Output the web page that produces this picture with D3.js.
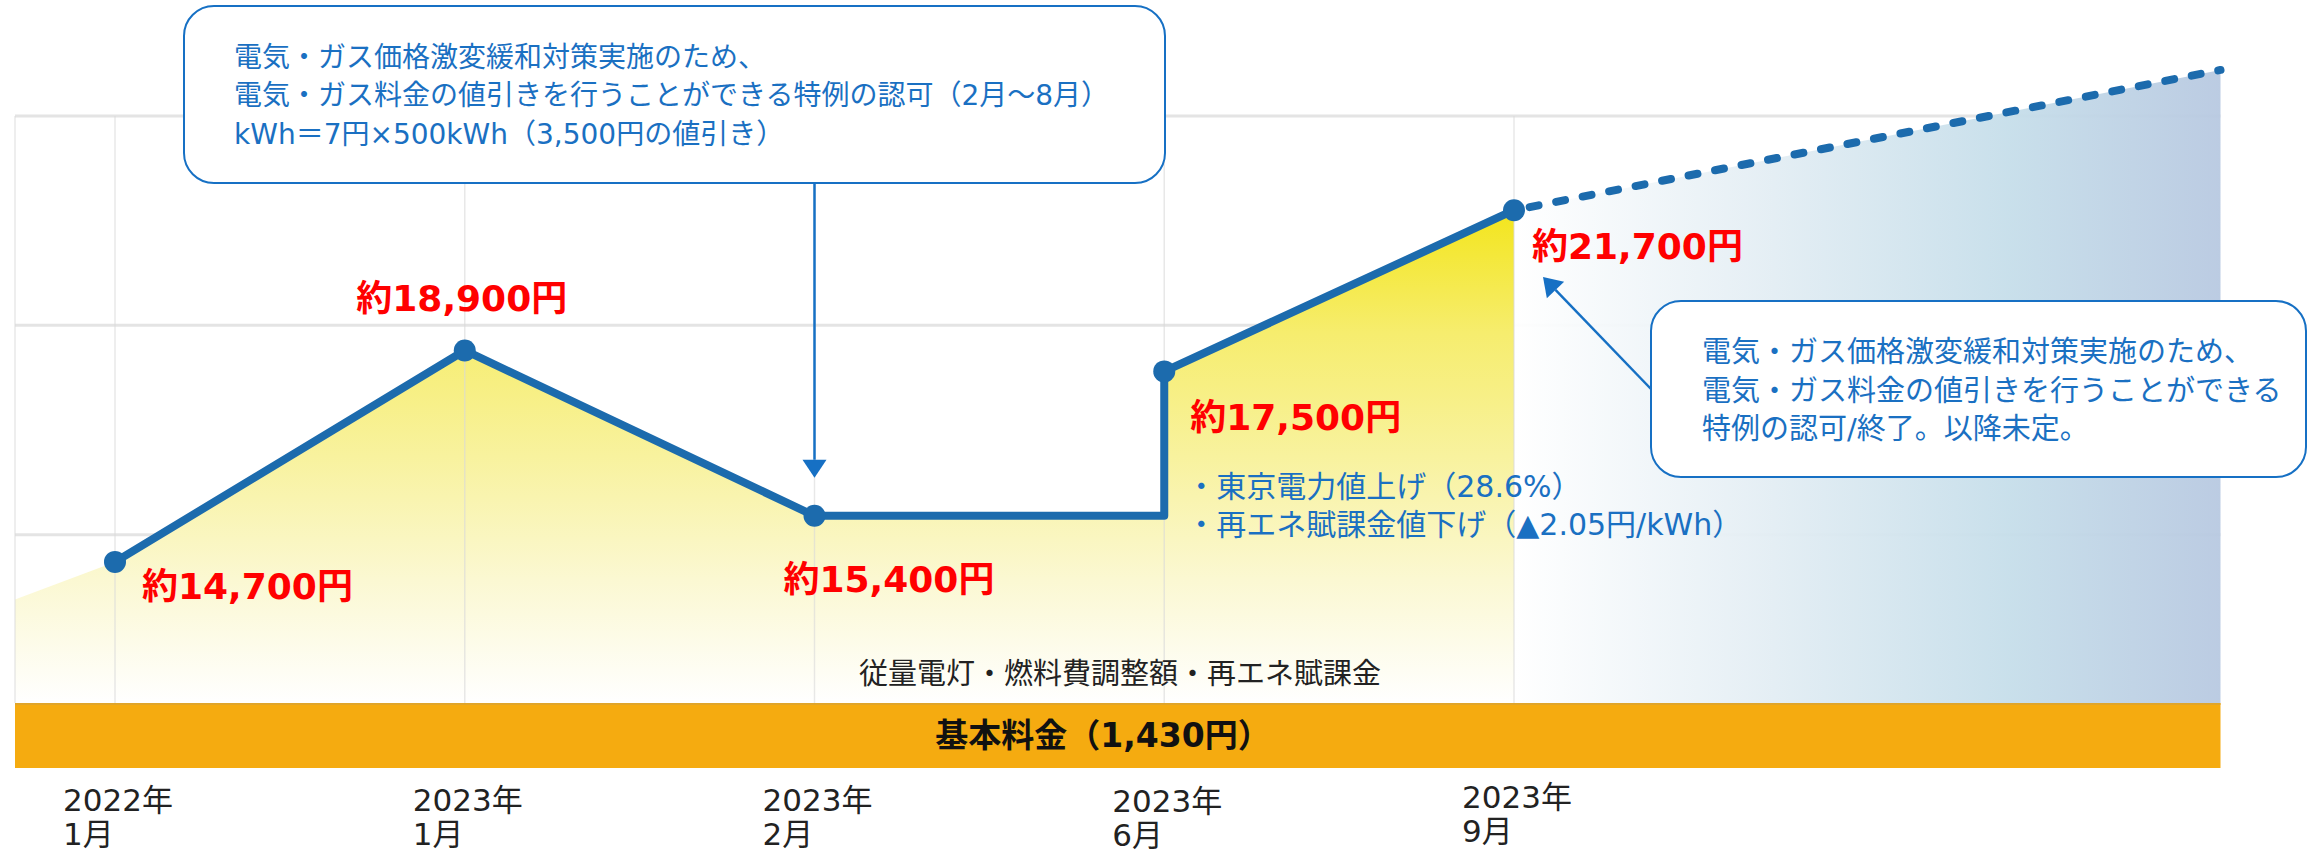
<!DOCTYPE html>
<html>
<head>
<meta charset="utf-8">
<script src="https://cdn.jsdelivr.net/npm/d3@7"></script>
<style>
    body { margin: 0; background: #fff; }
    svg { display: block; }
</style>
</head>
<body>
<div id="chart"></div>
<script>
// 期間
let yearLabels = ["2022年", "2023年", "2023年", "2023年", "2023年"];
let monthLabels = ["1月", "1月", "2月", "6月", "9月"];
// 月額（約）
let bills = [14700, 18900, 15400, 17500, 21700];
// 図上の高さ（目盛り単位、模式図なので金額とは比例しない）
let levels = [0.87, 1.88, 1.09, 1.78, 2.55];
let stepAt = 3;            // 6月は2月の水準のまま → 一気に上がる
let startLevel = 0.69;     // 左端の塗り始め
let forecastLevel = 3.22;  // 以降（点線）
let forecastIndex = 6.02;
let gridLevels = [1, 2, 3];

let baseFeeText = "基本料金（1,430円）";
let usageText = "従量電灯・燃料費調整額・再エネ賦課金";
let noteLines = ["・東京電力値上げ（28.6%）", "・再エネ賦課金値下げ（▲2.05円/kWh）"];
let callout1 = ["電気・ガス価格激変緩和対策実施のため、",
    "電気・ガス料金の値引きを行うことができる特例の認可（2月～8月）",
    "kWh＝7円×500kWh（3,500円の値引き）"];
let callout2 = ["電気・ガス価格激変緩和対策実施のため、",
    "電気・ガス料金の値引きを行うことができる",
    "特例の認可/終了。以降未定。"];

let width = 2321;
let height = 856;
let plotLeft = 15;
let bandTop = 703;
let bandHeight = 65;
let lineColor = "#1c6bad";
let noteColor = "#1a70c2";
let font = "'DejaVu Sans', 'Noto Sans CJK JP', sans-serif";

let x = d3.scaleLinear().domain([0, 6]).range([115, 2213.5]);
let y = d3.scaleLinear().domain([0, 3]).range([744, 116]);
let plotRight = x(forecastIndex);

let svg = d3.select("#chart")
    .append("svg")
    .attr("width", width)
    .attr("height", height)
    .style("font-family", font);

let defs = svg.append("defs");

let yellow = defs.append("linearGradient")
    .attr("id", "yellowFill")
    .attr("gradientUnits", "userSpaceOnUse")
    .attr("x1", 0).attr("x2", 0)
    .attr("y1", y(levels[4])).attr("y2", bandTop);
[[0, "#f3e51c"], [0.25, "#f6ed6e"], [0.5, "#f8f29e"], [0.75, "#fbf8d2"], [1, "#ffffff"]]
    .forEach(function(s) {
        yellow.append("stop").attr("offset", s[0]).attr("stop-color", s[1]);
    });

let blue = defs.append("linearGradient")
    .attr("id", "blueFill")
    .attr("gradientUnits", "userSpaceOnUse")
    .attr("x1", x(4)).attr("x2", plotRight)
    .attr("y1", 0).attr("y2", 0);
[[0, "#ffffff"], [0.35, "#e4eef4"], [0.7, "#c6deea"], [1, "#b8c9e1"]]
    .forEach(function(s) {
        blue.append("stop").attr("offset", s[0]).attr("stop-color", s[1]);
    });

// 横グリッド
svg.selectAll(".hgrid")
    .data(gridLevels)
    .enter().append("line")
    .attr("class", "hgrid")
    .attr("x1", plotLeft).attr("x2", plotRight)
    .attr("y1", d => y(d)).attr("y2", d => y(d))
    .attr("stroke", "#e4e4e4")
    .attr("stroke-width", 3);

// 実績の点列（6月は段差）
let pts = [];
levels.forEach(function(v, i) {
    if (i === stepAt) pts.push([i, levels[i - 1]]);
    pts.push([i, v]);
});

let area = d3.area()
    .x(d => x(d[0]))
    .y0(bandTop)
    .y1(d => y(d[1]));

svg.append("path")
    .datum([[x.invert(plotLeft), startLevel]].concat(pts))
    .attr("d", area)
    .attr("fill", "url(#yellowFill)");

let forecast = [[4, levels[4]], [forecastIndex, forecastLevel]];

svg.append("path")
    .datum(forecast)
    .attr("d", area)
    .attr("fill", "url(#blueFill)")
    .attr("opacity", 0.95);

// 縦グリッド
svg.selectAll(".vgrid")
    .data([x.invert(plotLeft), 0, 1, 2, 3, 4])
    .enter().append("line")
    .attr("class", "vgrid")
    .attr("x1", d => x(d)).attr("x2", d => x(d))
    .attr("y1", y(3)).attr("y2", bandTop)
    .attr("stroke", "#d8d8d8")
    .attr("stroke-opacity", 0.6)
    .attr("stroke-width", 1.5);

// 基本料金
svg.append("rect")
    .attr("x", plotLeft)
    .attr("y", bandTop)
    .attr("width", plotRight - plotLeft)
    .attr("height", bandHeight)
    .attr("fill", "#f5ab10");

svg.append("line")
    .attr("x1", plotLeft).attr("x2", plotRight)
    .attr("y1", bandTop + 1).attr("y2", bandTop + 1)
    .attr("stroke", "#e0a52a")
    .attr("stroke-width", 2);

svg.append("text")
    .attr("x", 1103)
    .attr("y", bandTop + bandHeight / 2)
    .attr("text-anchor", "middle")
    .attr("dominant-baseline", "central")
    .style("font-size", "33px")
    .style("font-weight", "bold")
    .attr("fill", "#111")
    .text(baseFeeText);

svg.append("text")
    .attr("x", 1120)
    .attr("y", 674)
    .attr("text-anchor", "middle")
    .attr("dominant-baseline", "central")
    .style("font-size", "29px")
    .attr("fill", "#222")
    .text(usageText);

// 線
let line = d3.line()
    .x(d => x(d[0]))
    .y(d => y(d[1]));

svg.append("path")
    .datum(pts)
    .attr("d", line)
    .attr("fill", "none")
    .attr("stroke", lineColor)
    .attr("stroke-width", 8)
    .attr("stroke-linejoin", "round");

svg.append("path")
    .datum(forecast)
    .attr("d", line)
    .attr("fill", "none")
    .attr("stroke", lineColor)
    .attr("stroke-width", 8)
    .attr("stroke-linecap", "round")
    .attr("stroke-dasharray", "9 18")
    .attr("stroke-dashoffset", -16);

svg.selectAll(".dot")
    .data(levels)
    .enter().append("circle")
    .attr("class", "dot")
    .attr("cx", (d, i) => x(i))
    .attr("cy", d => y(d))
    .attr("r", 11)
    .attr("fill", lineColor);

// 金額ラベル
let labelPlace = [
    { dx: 27, dy: 25, anchor: "start" },
    { dx: -3, dy: -52, anchor: "middle" },
    { dx: -31, dy: 64, anchor: "start" },
    { dx: 26, dy: 46, anchor: "start" },
    { dx: 18, dy: 36, anchor: "start" }
];

svg.selectAll(".bill")
    .data(bills)
    .enter().append("text")
    .attr("class", "bill")
    .attr("x", (d, i) => x(i) + labelPlace[i].dx)
    .attr("y", (d, i) => y(levels[i]) + labelPlace[i].dy)
    .attr("text-anchor", (d, i) => labelPlace[i].anchor)
    .attr("dominant-baseline", "central")
    .style("font-size", "36px")
    .style("font-weight", "bold")
    .attr("fill", "#ff0000")
    .text(d => "約" + d3.format(",")(d) + "円");

// 6月の注記
svg.selectAll(".note")
    .data(noteLines)
    .enter().append("text")
    .attr("class", "note")
    .attr("x", x(stepAt) + 22)
    .attr("y", (d, i) => 486 + i * 38)
    .attr("dominant-baseline", "central")
    .style("font-size", "30px")
    .attr("fill", noteColor)
    .text(d => d);

// x軸ラベル
let labelShift = [0, 0, 0, 1, -3];
let xLabels = svg.selectAll(".xlabel")
    .data(yearLabels)
    .enter().append("g")
    .attr("class", "xlabel")
    .attr("transform", (d, i) => "translate(" + (x(i) - 52) + "," + (800 + labelShift[i]) + ")");

xLabels.append("text")
    .attr("dominant-baseline", "central")
    .style("font-size", "31px")
    .attr("fill", "#222")
    .text(d => d);

xLabels.append("text")
    .attr("y", 34)
    .attr("dominant-baseline", "central")
    .style("font-size", "31px")
    .attr("fill", "#222")
    .text((d, i) => monthLabels[i]);

// 吹き出し
function callout(bx, by, bw, bh, lines, tx, ty, size) {
    svg.append("rect")
        .attr("x", bx).attr("y", by)
        .attr("width", bw).attr("height", bh)
        .attr("rx", 30).attr("ry", 30)
        .attr("fill", "#fff")
        .attr("stroke", "#1670c4")
        .attr("stroke-width", 2);

    svg.selectAll(null)
        .data(lines)
        .enter().append("text")
        .attr("x", tx)
        .attr("y", (d, i) => ty + i * 38.5)
        .attr("dominant-baseline", "central")
        .style("font-size", size + "px")
        .attr("fill", noteColor)
        .text(d => d);
}

function arrow(x1, y1, x2, y2) {
    let a = Math.atan2(y2 - y1, x2 - x1);
    let len = 18, half = 12;
    let bx = x2 - len * Math.cos(a), by = y2 - len * Math.sin(a);
    svg.append("line")
        .attr("x1", x1).attr("y1", y1)
        .attr("x2", bx).attr("y2", by)
        .attr("stroke", "#1670c4")
        .attr("stroke-width", 2.5);
    svg.append("polygon")
        .attr("points", [
            [x2, y2],
            [bx + half * Math.sin(a), by - half * Math.cos(a)],
            [bx - half * Math.sin(a), by + half * Math.cos(a)]
        ].map(p => p.join(",")).join(" "))
        .attr("fill", "#1670c4");
}

arrow(x(2), 183, x(2), y(levels[2]) - 38);
callout(184, 6, 981, 177, callout1, 234, 57, 28);

arrow(1651, 389, 1543, 277);
callout(1651, 301, 655, 176, callout2, 1702, 352, 29);
</script>
</body>
</html>
